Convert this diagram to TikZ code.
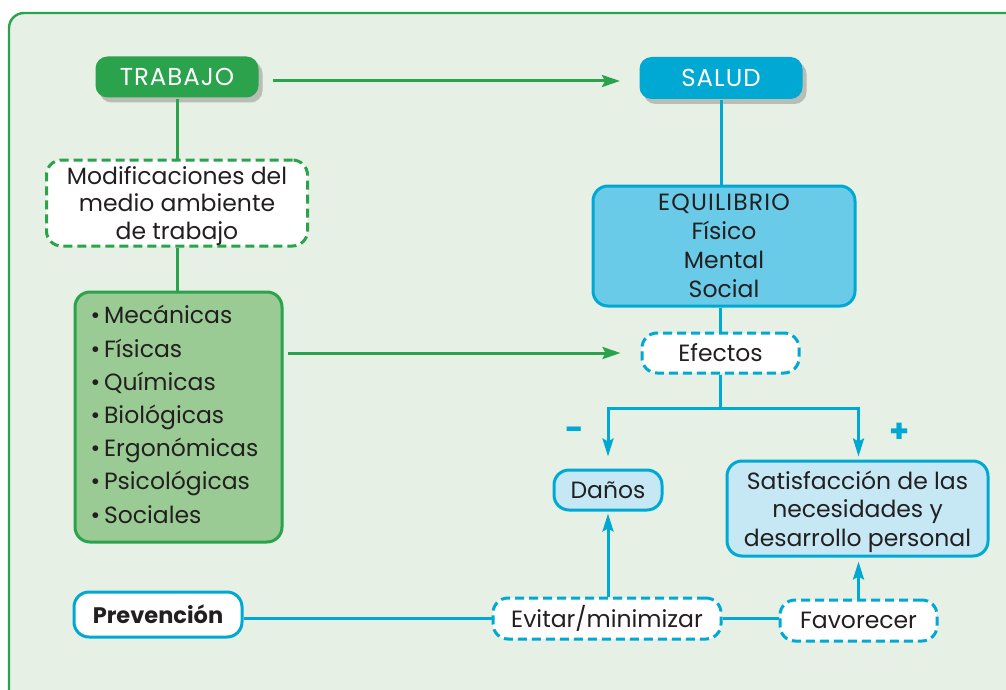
\documentclass[tikz,border=0pt]{standalone}
\usepackage{fontspec}
\setmainfont{Poppins}
\usetikzlibrary{arrows.meta,shadows,positioning}
\definecolor{frameG}{HTML}{2BA24C}
\definecolor{bgG}{HTML}{E6F0E4}
\definecolor{listG}{HTML}{9BCB94}
\definecolor{blueD}{HTML}{00A8D4}
\definecolor{blueM}{HTML}{6ACBE8}
\definecolor{blueL}{HTML}{C5E8F4}
\definecolor{txt}{HTML}{231F20}
\tikzset{
  base/.style={rounded corners=15pt, line width=3pt, align=center, text=txt, inner sep=0pt, font=\fontsize{23.5}{27.5}\selectfont},
  caps/.style={font=\fontsize{24.5}{29}\selectfont\addfontfeature{LetterSpace=4}},
  headG/.style={base, caps, fill=frameG, draw=none, text=white, rounded corners=12pt, drop shadow={shadow xshift=4pt, shadow yshift=-5pt, opacity=0.45}},
  headB/.style={base, caps, fill=blueD, draw=none, text=white, rounded corners=12pt, drop shadow={shadow xshift=4pt, shadow yshift=-5pt, opacity=0.45}},
  dashG/.style={base, draw=frameG, fill=white, dash pattern=on 9pt off 5pt},
  dashB/.style={base, draw=blueD, fill=white, dash pattern=on 9pt off 5pt},
  solB/.style={base, draw=blueD},
  gline/.style={draw=frameG, line width=3pt},
  bline/.style={draw=blueD, line width=3pt},
  garrow/.style={gline, -{Stealth[length=18pt,width=12pt,inset=3pt]}},
  barrow/.style={bline, -{Stealth[length=18pt,width=11pt,inset=3pt]}},
  sign/.style={text=blueD, font=\fontsize{32}{32}\selectfont\bfseries, inner sep=0pt}
}
\begin{document}
\begin{tikzpicture}[x=1pt,y=-1pt]
\useasboundingbox (0,0) rectangle (1006,690);
\fill[white] (0,0) rectangle (1006,690);
\draw[draw=frameG, fill=bgG, line width=2.4pt, rounded corners=15pt] (9,13) rectangle (1030,720);

% nodes
\node[headG, minimum width=163pt, minimum height=41pt] (trabajo) at (177,77) {TRABAJO};
\node[headB, minimum width=163pt, minimum height=42pt] (salud) at (721,78) {SALUD};
\node[dashG, minimum width=261pt, minimum height=86pt, text depth=0pt] (modif) at (177,203) {Modificaciones del\\medio ambiente\\de trabajo};
\node[base, draw=frameG, fill=listG, minimum width=207pt, minimum height=250pt] (lista) at (178.5,417) {};
\node[base, anchor=north west, align=left, font=\fontsize{23.5}{33.2}\selectfont] (items) at (89,304)
 {•\,Mecánicas\\•\,Físicas\\•\,Químicas\\•\,Biológicas\\•\,Ergonómicas\\•\,Psicológicas\\•\,Sociales};
\node[solB, fill=blueM, minimum width=262pt, minimum height=120pt, text depth=0pt, font=\fontsize{23.5}{29}\selectfont] (equil) at (724,246) {{\addfontfeature{LetterSpace=5}EQUILIBRIO}\\Físico\\Mental\\Social};
\node[dashB, minimum width=157pt, minimum height=40pt] (efectos) at (720.5,353) {Efectos};
\node[solB, fill=blueL, minimum width=108pt, minimum height=40pt] (danos) at (608,490) {Daños};
\node[solB, fill=blueL, minimum width=261pt, minimum height=95pt, text depth=0pt, font=\fontsize{23.5}{28.5}\selectfont] (satis) at (857.5,508.5) {Satisfacción de las\\necesidades y\\desarrollo personal};
\node[solB, fill=white, minimum width=168pt, minimum height=45pt, font=\fontsize{22.5}{27}\selectfont\bfseries] (prev) at (158,614.5) {Prevención};
\node[dashB, minimum width=228pt, minimum height=41pt] (evitar) at (607,618.5) {Evitar/minimizar};
\node[dashB, minimum width=157pt, minimum height=41pt] (favor) at (858.5,620.5) {Favorecer};
\node[sign] (menos) at (575,434) {-};
\node[sign] (mas) at (900,433) {+};

% connectors
\coordinate (ga) at (273,81);
\coordinate (gb) at (620,81);
\draw[garrow] (ga) -- (gb);
\draw[gline] (trabajo.south) -- (modif.north);
\draw[gline] (modif.south) -- (modif.south |- lista.north);
\coordinate (la) at (288,353);
\draw[garrow] (la) -- ([xshift=-20pt]efectos.west);
\draw[bline] (salud.south) -- (equil.north -| salud.south);
\draw[bline] (equil.south -| efectos.north) -- (efectos.north);
\coordinate (split) at (720.5,408);
\draw[bline] (efectos.south) -- (split);
\draw[barrow] (split) -| ([yshift=12pt]danos.north);
\draw[barrow] (split) -| ([yshift=3pt]satis.north -| favor.north);
\draw[bline] (prev.east |- evitar.west) -- (evitar.west);
\draw[bline] (evitar.east) -- (evitar.east -| favor.west);
\draw[barrow] (evitar.north -| danos.south) -- ([yshift=-2pt]danos.south);
\draw[barrow] (favor.north) -- ([yshift=-4pt]satis.south -| favor.north);
\end{tikzpicture}
\end{document}
